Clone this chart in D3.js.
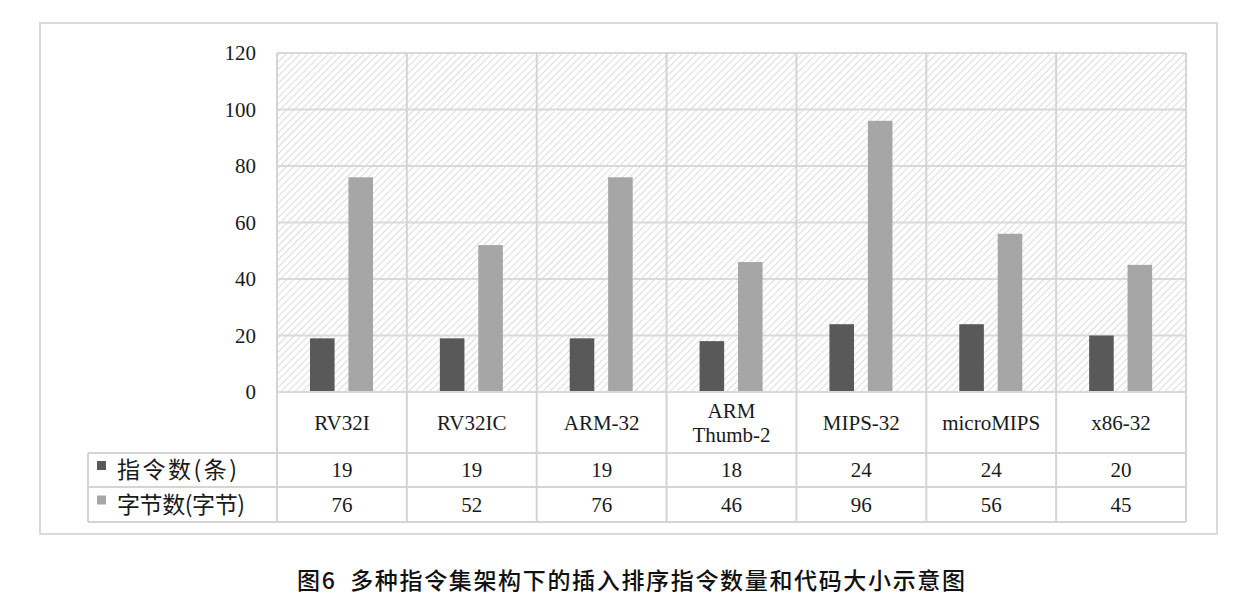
<!DOCTYPE html>
<html>
<head>
<meta charset="utf-8">
<script src="https://cdn.jsdelivr.net/npm/d3@7"></script>
<style>
body{margin:0;background:#fff;}
</style>
</head>
<body>
<script>
// data
const categories = [["RV32I"],["RV32IC"],["ARM-32"],["ARM","Thumb-2"],["MIPS-32"],["microMIPS"],["x86-32"]];
const seriesNames = ["指令数(条)","字节数(字节)"];
const instrCount = [19,19,19,18,24,24,20];
const byteCount = [76,52,76,46,96,56,45];
const yTicks = [0,20,40,60,80,100,120];
const caption = "图6  多种指令集架构下的插入排序指令数量和代码大小示意图";

const colors = ["#595959","#a6a6a6"];
const W = 1249, H = 608;
const plot = {left:277, right:1186, top:53, bottom:392};
const tableLeft = 88, rowH = [392,453,487,522];
const serif = "'Liberation Serif','Times New Roman',serif";
const cjk = "'Noto Sans CJK SC',sans-serif";

const svg = d3.select("body").append("svg")
    .attr("width",W).attr("height",H);

// hatch pattern
const defs = svg.append("defs");
defs.append("pattern")
    .attr("id","hatch")
    .attr("patternUnits","userSpaceOnUse")
    .attr("width",5).attr("height",5)
    .attr("patternTransform","rotate(45)")
    .append("line")
    .attr("x1",0).attr("y1",0).attr("x2",0).attr("y2",5)
    .attr("stroke","#d0d0d0").attr("stroke-width",1.5);

// outer frame
svg.append("rect")
    .attr("x",40).attr("y",23).attr("width",1177).attr("height",511)
    .attr("fill","none").attr("stroke","#d9d9d9").attr("stroke-width",2);

const keys = categories.map((c,i)=>i);
const x0 = d3.scaleBand().domain(keys).range([plot.left,plot.right]);
const x1 = d3.scaleBand().domain([0,1]).range([33,96]).paddingInner(0.36);
const y = d3.scaleLinear().domain([0,120]).range([plot.bottom,plot.top]);

// plot background
svg.append("rect")
    .attr("x",plot.left).attr("y",plot.top)
    .attr("width",plot.right-plot.left).attr("height",plot.bottom-plot.top)
    .attr("fill","url(#hatch)");

// horizontal grid
svg.append("g").selectAll("line").data(yTicks).join("line")
    .attr("x1",plot.left).attr("x2",plot.right)
    .attr("y1",d=>y(d)).attr("y2",d=>y(d))
    .attr("stroke","#d9d9d9").attr("stroke-width",2);

// y axis labels
const yAxis = svg.append("g")
    .attr("transform",`translate(${plot.left-21},0)`)
    .call(d3.axisLeft(y).tickValues(yTicks).tickSize(0).tickPadding(0));
yAxis.select(".domain").remove();
yAxis.selectAll("text")
    .attr("font-family",serif).attr("font-size",21).attr("fill","#1a1a1a");

// bars
const series = [instrCount, byteCount];
const g = svg.append("g");
series.forEach((vals,s)=>{
  g.selectAll(".bar"+s).data(vals).join("rect")
    .attr("class","bar"+s)
    .attr("x",(d,i)=>x0(i)+x1(s))
    .attr("width",x1.bandwidth())
    .attr("y",d=>y(d))
    .attr("height",d=>y(0)-y(d)-1)
    .attr("fill",colors[s]);
});

// table lines
const lineColor = "#d4d4d4";
const tg = svg.append("g");
const vx = keys.map(k=>x0(k)).concat([plot.right]);
tg.selectAll(".vl").data(vx).join("line")
    .attr("x1",d=>d).attr("x2",d=>d)
    .attr("y1",plot.top).attr("y2",rowH[3])
    .attr("stroke",lineColor).attr("stroke-width",2);
tg.append("line").attr("x1",tableLeft).attr("x2",tableLeft)
    .attr("y1",rowH[1]).attr("y2",rowH[3])
    .attr("stroke",lineColor).attr("stroke-width",2);
tg.selectAll(".hl").data(rowH.slice(1)).join("line")
    .attr("x1",tableLeft).attr("x2",plot.right)
    .attr("y1",d=>d).attr("y2",d=>d)
    .attr("stroke",lineColor).attr("stroke-width",2);

// category labels
const catG = svg.append("g");
categories.forEach((c,i)=>{
  const cx = x0(i)+x0.bandwidth()/2;
  const t = catG.append("text")
    .attr("text-anchor","middle")
    .attr("font-family",serif).attr("font-size",21).attr("fill","#1a1a1a");
  const midY = (rowH[0]+rowH[1])/2;
  c.forEach((line,j)=>{
    t.append("tspan").attr("x",cx)
      .attr("y",midY + 7 + (j-(c.length-1)/2)*24)
      .text(line);
  });
});

// value rows
series.forEach((vals,s)=>{
  const cy = (rowH[s+1]+rowH[s+2])/2 + 7;
  svg.append("g").selectAll("text").data(vals).join("text")
    .attr("x",(d,i)=>x0(i)+x0.bandwidth()/2)
    .attr("y",cy)
    .attr("text-anchor","middle")
    .attr("font-family",serif).attr("font-size",21).attr("fill","#1a1a1a")
    .text(d=>d);
  svg.append("rect")
    .attr("x",97).attr("y",cy-16).attr("width",9).attr("height",9)
    .attr("fill",colors[s]);
  svg.append("text")
    .attr("x",117).attr("y",cy+1)
    .attr("font-family",cjk).attr("font-size",23).attr("fill","#1a1a1a")
    .attr("textLength",s===0?120:128)
    .text(seriesNames[s]);
});

// caption
svg.append("text")
    .attr("x",631).attr("y",589)
    .attr("text-anchor","middle")
    .attr("font-family",cjk).attr("font-size",23).attr("font-weight",500)
    .attr("fill","#111")
    .attr("xml:space","preserve")
    .attr("textLength",668)
    .text(caption);
</script>
</body>
</html>
